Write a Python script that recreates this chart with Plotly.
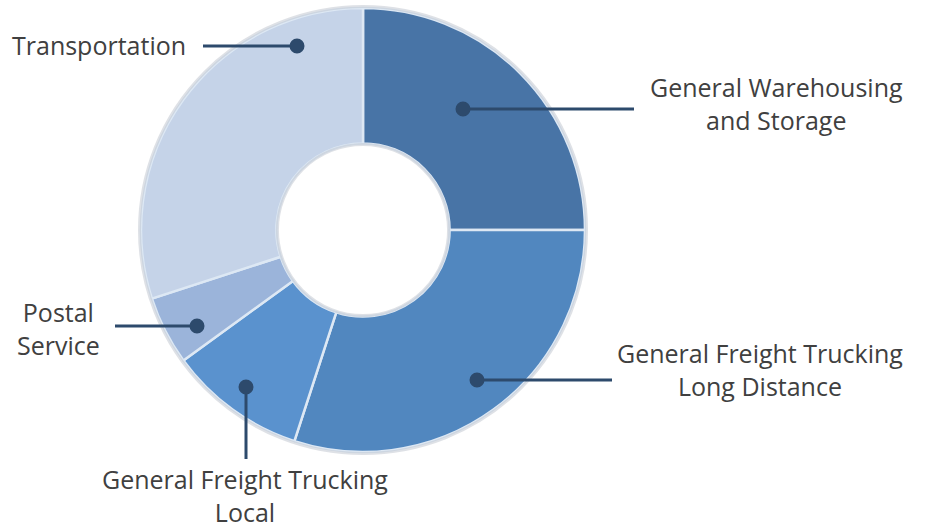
import plotly.graph_objects as go

# ---- data ----
categories = ["General Warehousing and Storage", "General Freight Trucking Long Distance",
              "General Freight Trucking Local", "Postal Service", "Transportation"]
label_text = ["General Warehousing<br>and Storage", "General Freight Trucking<br>Long Distance",
              "General Freight Trucking<br>Local", "Postal<br>Service", "Transportation"]
shares = [25, 30, 10, 5, 30]
colors = ["#4874A6", "#5187BF", "#5A92CE", "#9BB4DA", "#C5D3E8"]

W, H = 928, 527
cx, cy, R = 363, 230, 222
hole = 0.39

def px(x):
    return x / W

def py(y):
    return 1 - y / H

fig = go.Figure()
fig.add_trace(go.Pie(
    labels=categories, values=shares, sort=False, direction="clockwise", rotation=0,
    hole=hole, marker=dict(colors=colors, line=dict(color="#DDE8F4", width=2.5)),
    textinfo="none", hoverinfo="label+percent", showlegend=False,
    domain=dict(x=[px(cx - R), px(cx + R)], y=[py(cy + R), py(cy - R)]),
))

# soft rims around donut
shapes = []
for rr in [R + 1.5, R * hole - 1]:
    shapes.append(dict(type="circle", xref="paper", yref="paper",
                       x0=px(cx - rr), x1=px(cx + rr), y0=py(cy + rr), y1=py(cy - rr),
                       line=dict(color="rgba(190,195,205,0.5)", width=3), layer="above"))

# leader lines: (dot x, dot y, end x, end y), label placement
leaders = [
    (463, 109, 634, 109),
    (477, 380, 612, 380),
    (246, 387, 246, 459),
    (197, 326, 115, 326),
    (297, 46, 203, 46),
]
label_pos = [
    (776, 103, "center"),
    (760, 369, "center"),
    (245, 495, "center"),
    (58, 328, "center"),
    (188, 45, "right"),
]
lc = "#2D4A6C"
for (x0, y0, x1, y1) in leaders:
    shapes.append(dict(type="line", xref="paper", yref="paper",
                       x0=px(x0), y0=py(y0), x1=px(x1), y1=py(y1),
                       line=dict(color=lc, width=3), layer="above"))
    shapes.append(dict(type="circle", xref="paper", yref="paper",
                       xsizemode="pixel", ysizemode="pixel",
                       xanchor=px(x0), yanchor=py(y0), x0=-7.5, x1=7.5, y0=-7.5, y1=7.5,
                       fillcolor=lc, line=dict(color=lc, width=0), layer="above"))

annotations = []
for txt, (x, y, al) in zip(label_text, label_pos):
    annotations.append(dict(text=txt, xref="paper", yref="paper", x=px(x), y=py(y),
                            xanchor=al, yanchor="middle", align="center", showarrow=False,
                            font=dict(family="Open Sans", size=25, color="#404040")))

fig.update_layout(width=W, height=H, margin=dict(l=0, r=0, t=0, b=0),
                  paper_bgcolor="white", plot_bgcolor="white",
                  shapes=shapes, annotations=annotations)
fig.write_html("out.html", config={"displayModeBar": False},
               post_script="document.body.style.margin='0';")
